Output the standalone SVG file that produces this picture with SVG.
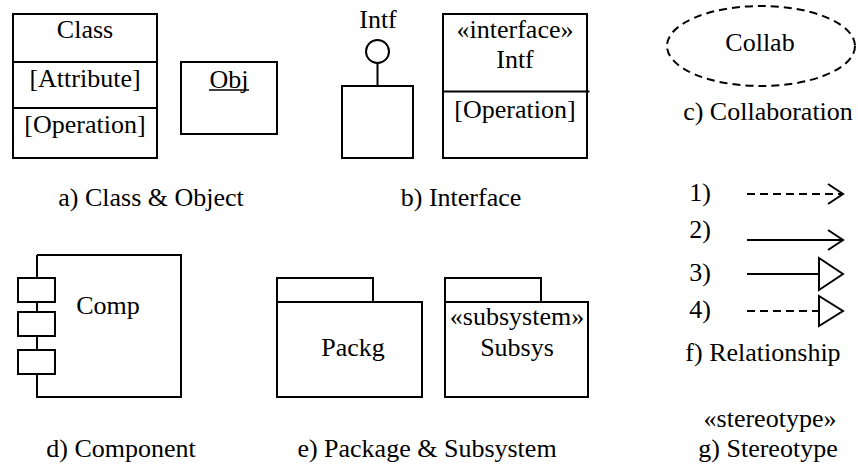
<svg xmlns="http://www.w3.org/2000/svg" width="858" height="466" viewBox="0 0 858 466" font-size="26">
<style>
text{fill:#000;text-anchor:middle}
.s{fill:#fff;stroke:#000;stroke-width:2}
.n{fill:none;stroke:#000;stroke-width:2}
.d{stroke-dasharray:8,5}
</style>
<rect width="858" height="466" fill="#fff"/>
<g id="class">
<rect class="s" x="13" y="14" width="144" height="144"/>
<line class="n" x1="13" y1="62" x2="157" y2="62"/>
<line class="n" x1="13" y1="108" x2="157" y2="108"/>
<text x="85" y="38" font-family="Times New Roman">Class</text>
<text x="85" y="87" font-family="Times New Roman">[Attribute]</text>
<text x="85" y="133" font-family="Times New Roman">[Operation]</text>
</g>
<g id="object">
<rect class="s" x="181" y="62" width="96" height="72"/>
<text x="229" y="88" font-family="Times New Roman">Obj</text>
<line x1="209" y1="90" x2="249" y2="90" stroke="#000" stroke-width="1.5"/>
</g>
<text x="151" y="206" font-family="Times New Roman">a) Class &amp; Object</text>
<g id="interface-lollipop">
<text x="378" y="28" font-family="Times New Roman">Intf</text>
<circle class="s" cx="377.5" cy="51.5" r="11.5"/>
<line class="n" x1="377.5" y1="63" x2="377.5" y2="86"/>
<rect class="s" x="342" y="86" width="71" height="72"/>
</g>
<g id="interface-class">
<rect class="s" x="443" y="14" width="144" height="144"/>
<line class="n" x1="443" y1="91.5" x2="589.5" y2="91.5"/>
<text x="515" y="38" font-family="Times New Roman">«interface»</text>
<text x="515" y="68" font-family="Times New Roman">Intf</text>
<text x="515" y="118" font-family="Times New Roman">[Operation]</text>
</g>
<text x="461" y="206" font-family="Times New Roman">b) Interface</text>
<g id="collaboration">
<ellipse class="n d" cx="761" cy="46" rx="94" ry="40"/>
<text x="760" y="51" font-family="Times New Roman">Collab</text>
</g>
<text x="768" y="120" font-family="Times New Roman">c) Collaboration</text>
<g id="relationships">
<text x="700" y="201" font-family="Times New Roman">1)</text>
<line class="n d" x1="747" y1="194" x2="842" y2="194"/>
<polyline class="n" points="828,184 843,194 828,204"/>
<text x="700" y="238" font-family="Times New Roman">2)</text>
<line class="n" x1="747" y1="240" x2="842" y2="240"/>
<polyline class="n" points="828,230 843,240 828,250"/>
<text x="700" y="281" font-family="Times New Roman">3)</text>
<line class="n" x1="747" y1="274" x2="819" y2="274"/>
<polygon class="s" points="819,258 843,274 819,290"/>
<text x="700" y="318" font-family="Times New Roman">4)</text>
<line class="n d" x1="747" y1="311" x2="819" y2="311"/>
<polygon class="s" points="819,296 843,311 819,326"/>
</g>
<text x="763" y="361" font-family="Times New Roman">f) Relationship</text>
<g id="component">
<polyline class="n" points="37,255 181,255 181,397 37,397 37,255"/>
<rect class="s" x="18" y="278" width="37" height="24"/>
<rect class="s" x="18" y="312" width="37" height="24"/>
<rect class="s" x="18" y="350" width="37" height="24"/>
<text x="108" y="314" font-family="Times New Roman">Comp</text>
</g>
<text x="121" y="457" font-family="Times New Roman">d) Component</text>
<g id="package">
<rect class="s" x="277" y="278" width="96" height="24"/>
<rect class="s" x="277" y="302" width="145" height="95"/>
<text x="353" y="356" font-family="Times New Roman">Packg</text>
</g>
<g id="subsystem">
<rect class="s" x="445" y="278" width="96" height="24"/>
<rect class="s" x="445" y="302" width="143" height="95"/>
<text x="517" y="325" font-family="Times New Roman">«subsystem»</text>
<text x="517" y="356" font-family="Times New Roman">Subsys</text>
</g>
<text x="427" y="457" font-family="Times New Roman">e) Package &amp; Subsystem</text>
<g id="stereotype">
<text x="770" y="427" font-family="Times New Roman">«stereotype»</text>
</g>
<text x="768" y="457" font-family="Times New Roman">g) Stereotype</text>
</svg>
